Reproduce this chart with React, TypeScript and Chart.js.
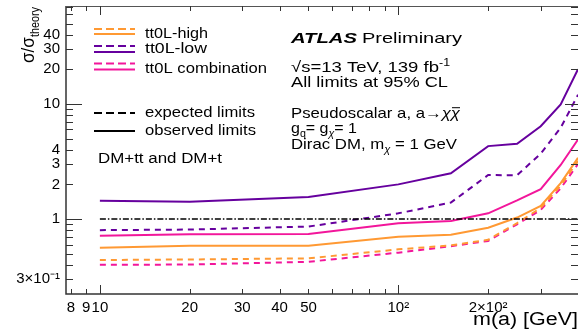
import React, { useEffect, useRef } from 'react';
import { Chart, registerables } from 'chart.js';

Chart.register(...registerables);

// ---------------- data ----------------
const masses = [10, 20, 50, 100, 150, 200, 250, 300, 350, 400];

const highExpected = [0.44, 0.445, 0.455, 0.545, 0.59, 0.66, 0.92, 1.25, 1.95, 3.2];
const highObserved = [0.563, 0.586, 0.586, 0.70, 0.73, 0.84, 1.03, 1.3, 2.05, 3.4];
const lowExpected = [0.80, 0.81, 0.86, 1.12, 1.39, 2.41, 2.4, 3.7, 6.2, 12];
const lowObserved = [1.44, 1.41, 1.55, 2.0, 2.5, 4.3, 4.5, 6.4, 9.9, 20];
const combExpected = [0.40, 0.402, 0.425, 0.51, 0.58, 0.645, 0.9, 1.2, 1.85, 3.0];
const combObserved = [0.716, 0.736, 0.74, 0.92, 0.96, 1.12, 1.45, 1.82, 2.95, 4.9];

const refMasses = [10, 400];
const refValues = [1, 1];

const xTickValues = [8, 9, 10, 20, 30, 40, 50, 60, 70, 80, 90, 100, 200, 300, 400];
const xMajor = [10, 100];
const xTickLabels: Record<string, string> = {
  '8': '8', '9': '9', '10': '10', '20': '20', '30': '30', '40': '40', '50': '50',
  '100': '10²', '200': '2×10²',
};
const yTickValues = [0.3, 0.4, 0.5, 0.6, 0.7, 0.8, 0.9, 1, 2, 3, 4, 5, 6, 7, 8, 9, 10, 20, 30, 40, 50, 60, 70];
const yMajor = [1, 10];
const yTickLabels: Record<string, string> = {
  '0.3': '3×10⁻¹', '1': '1', '2': '2', '3': '3', '4': '4',
  '10': '10', '20': '20', '30': '30', '40': '40',
};

const ORANGE = '#ff9933';
const PURPLE = '#66009e';
const PINK = '#f2169b';
const FONT = '"Liberation Sans", Arial, Helvetica, sans-serif';

type Seg = { t: string; size?: number; dy?: number; bold?: boolean; italic?: boolean; bar?: boolean };

function fontOf(s: Seg, base: number) {
  return `${s.italic ? 'italic ' : ''}${s.bold ? 'bold ' : ''}${s.size ?? base}px ${FONT}`;
}

function drawRich(ctx: CanvasRenderingContext2D, segs: Seg[], x: number, y: number, base: number, target?: number, rotate = 0) {
  let total = 0;
  for (const s of segs) {
    ctx.font = fontOf(s, base);
    total += ctx.measureText(s.t).width;
  }
  const sx = target ? target / total : 1;
  ctx.save();
  ctx.translate(x, y);
  if (rotate) ctx.rotate(rotate);
  ctx.scale(sx, 1);
  ctx.textAlign = 'left';
  ctx.textBaseline = 'alphabetic';
  ctx.fillStyle = '#000';
  let cx = 0;
  for (const s of segs) {
    ctx.font = fontOf(s, base);
    const w = ctx.measureText(s.t).width;
    const dy = s.dy ?? 0;
    ctx.fillText(s.t, cx, dy);
    if (s.bar) {
      const sz = s.size ?? base;
      ctx.fillRect(cx + 1, dy - sz * 0.72, w - 1, 1);
    }
    cx += w;
  }
  ctx.restore();
}

function legendLine(ctx: CanvasRenderingContext2D, color: string, x1: number, x2: number, y: number, dashed: boolean) {
  ctx.save();
  ctx.strokeStyle = color;
  ctx.lineWidth = 2;
  ctx.setLineDash(dashed ? [8, 4] : []);
  ctx.beginPath();
  ctx.moveTo(x1, y);
  ctx.lineTo(x2, y);
  ctx.stroke();
  ctx.restore();
}

const decorPlugin = {
  id: 'atlasDecor',
  afterDraw(chart: any) {
    const ctx: CanvasRenderingContext2D = chart.ctx;
    const { left, right, top, bottom } = chart.chartArea;
    const xs = chart.scales.x;
    const ys = chart.scales.y;
    ctx.save();
    // frame
    ctx.strokeStyle = '#333';
    ctx.lineWidth = 1.5;
    ctx.beginPath();
    ctx.moveTo(left, top);
    ctx.lineTo(left, bottom);
    ctx.lineTo(right, bottom);
    ctx.stroke();
    ctx.lineWidth = 1;
    ctx.strokeStyle = '#555';
    ctx.beginPath();
    ctx.moveTo(left, top + 0.5);
    ctx.lineTo(right, top + 0.5);
    ctx.stroke();
    // inner ticks
    ctx.lineWidth = 1;
    ctx.strokeStyle = '#333';
    for (const v of xTickValues) {
      const px = Math.round(xs.getPixelForValue(v)) + 0.5;
      if (px < left || px > right + 1) continue;
      const len = xMajor.includes(v) ? 9 : 5;
      ctx.beginPath();
      ctx.moveTo(px, bottom);
      ctx.lineTo(px, bottom - len);
      ctx.moveTo(px, top);
      ctx.lineTo(px, top + len);
      ctx.stroke();
    }
    for (const v of yTickValues) {
      const py = Math.round(ys.getPixelForValue(v)) + 0.5;
      if (py < top - 1 || py > bottom) continue;
      const major = yMajor.includes(v);
      ctx.beginPath();
      ctx.moveTo(left, py);
      ctx.lineTo(left + (major ? 16 : 7), py);
      ctx.moveTo(right, py);
      ctx.lineTo(right - (major ? 13 : 7), py);
      ctx.stroke();
    }
    ctx.restore();

    // legend
    legendLine(ctx, ORANGE, 94, 135, 29, true);
    legendLine(ctx, ORANGE, 94, 135, 34, false);
    legendLine(ctx, PURPLE, 94, 135, 46, true);
    legendLine(ctx, PURPLE, 94, 135, 52, false);
    legendLine(ctx, PINK, 94, 135, 63.5, true);
    legendLine(ctx, PINK, 94, 135, 69.5, false);
    legendLine(ctx, '#000', 94, 135, 113, true);
    legendLine(ctx, '#000', 94, 135, 131, false);

    drawRich(ctx, [{ t: 'tt0L-high' }], 145, 37.5, 14, 63);
    drawRich(ctx, [{ t: 'tt0L-low' }], 145, 53, 14, 62);
    drawRich(ctx, [{ t: 'tt0L combination' }], 145, 72.5, 14, 122);
    drawRich(ctx, [{ t: 'expected limits' }], 145, 117, 14, 110);
    drawRich(ctx, [{ t: 'observed limits' }], 145, 135, 14, 111);
    drawRich(ctx, [{ t: 'DM+tt and DM+t' }], 98, 163, 14, 124);

    // ATLAS block
    drawRich(ctx, [{ t: 'ATLAS', bold: true, italic: true }], 291, 43, 15, 66);
    drawRich(ctx, [{ t: 'Preliminary' }], 362, 43, 15, 100);
    drawRich(ctx, [{ t: '√s=13 TeV, 139 fb' }, { t: '-1', size: 10, dy: -6 }], 291, 71.5, 15, 159);
    drawRich(ctx, [{ t: 'All limits at 95% CL' }], 291, 87, 15, 157);
    drawRich(ctx, [{ t: 'Pseudoscalar a, a→' }, { t: 'χ', italic: true }, { t: 'χ', italic: true, bar: true }], 291, 118, 15, 169);
    drawRich(ctx, [{ t: 'g' }, { t: 'q', size: 10, dy: 4 }, { t: '= g' }, { t: 'χ', size: 10, dy: 4, italic: true }, { t: '= 1' }], 291, 133, 15, 66);
    drawRich(ctx, [{ t: 'Dirac DM, m' }, { t: 'χ', size: 10, dy: 4, italic: true }, { t: ' = 1 GeV' }], 291, 149, 15, 166);

    // axis titles
    drawRich(ctx, [{ t: 'σ/σ' }, { t: 'theory', size: 12, dy: 5 }], 34, 63, 19, 56, -Math.PI / 2);
    drawRich(ctx, [{ t: 'm(a) [GeV]' }], 578 - 105, 325, 18, 105);
  },
};

function line(label: string, xsArr: number[], ysArr: number[], color: string, dashed: boolean, width = 2, dash?: number[]) {
  return {
    label,
    data: xsArr.map((m, i) => ({ x: m, y: ysArr[i] })),
    borderColor: color,
    backgroundColor: color,
    borderWidth: width,
    borderDash: dash ?? (dashed ? [6, 5] : []),
    pointRadius: 0,
    fill: false,
    tension: 0,
  };
}

export default function App() {
  const ref = useRef<HTMLCanvasElement | null>(null);
  useEffect(() => {
    if (!ref.current) return;
    const chart = new Chart(ref.current, {
      type: 'line',
      data: {
        datasets: [
          line('ref', refMasses, refValues, '#000', false, 1.3, [6, 2, 1.5, 2]),
          line('tt0L-high expected', masses, highExpected, ORANGE, true),
          line('tt0L-low expected', masses, lowExpected, PURPLE, true),
          line('tt0L combination expected', masses, combExpected, PINK, true),
          line('tt0L-high observed', masses, highObserved, ORANGE, false),
          line('tt0L-low observed', masses, lowObserved, PURPLE, false),
          line('tt0L combination observed', masses, combObserved, PINK, false),
        ] as any,
      },
      options: {
        animation: false,
        responsive: true,
        maintainAspectRatio: false,
        layout: { padding: { top: 6, right: 0, left: 0, bottom: 0 } },
        plugins: { legend: { display: false }, tooltip: { enabled: false } },
        scales: {
          x: {
            type: 'logarithmic',
            min: 7.7,
            max: 400,
            grid: { display: false, drawTicks: false },
            border: { display: false },
            afterBuildTicks: (s: any) => { s.ticks = xTickValues.filter((v) => v <= 400).map((v) => ({ value: v })); },
            afterFit: (s: any) => { s.height = 38; s.paddingLeft = 0; s.paddingRight = 0; },
            ticks: {
              autoSkip: false,
              maxRotation: 0,
              minRotation: 0,
              padding: 5,
              color: '#000',
              font: { size: 15, family: FONT },
              callback: (v: any) => xTickLabels[String(v)] ?? '',
            },
          },
          y: {
            type: 'logarithmic',
            min: 0.223,
            max: 71,
            grid: { display: false, drawTicks: false },
            border: { display: false },
            afterBuildTicks: (s: any) => { s.ticks = yTickValues.map((v) => ({ value: v })); },
            afterFit: (s: any) => { s.width = 66; s.paddingTop = 0; s.paddingBottom = 0; },
            ticks: {
              autoSkip: false,
              padding: 6,
              color: '#000',
              font: { size: 15, family: FONT },
              callback: (v: any) => yTickLabels[String(v)] ?? '',
            },
          },
        },
      } as any,
      plugins: [decorPlugin],
    });
    return () => chart.destroy();
  }, []);
  return (
    <div style={{ position: 'fixed', left: 0, top: 0, width: 578, height: 332, background: '#fff' }}>
      <canvas ref={ref} />
    </div>
  );
}
